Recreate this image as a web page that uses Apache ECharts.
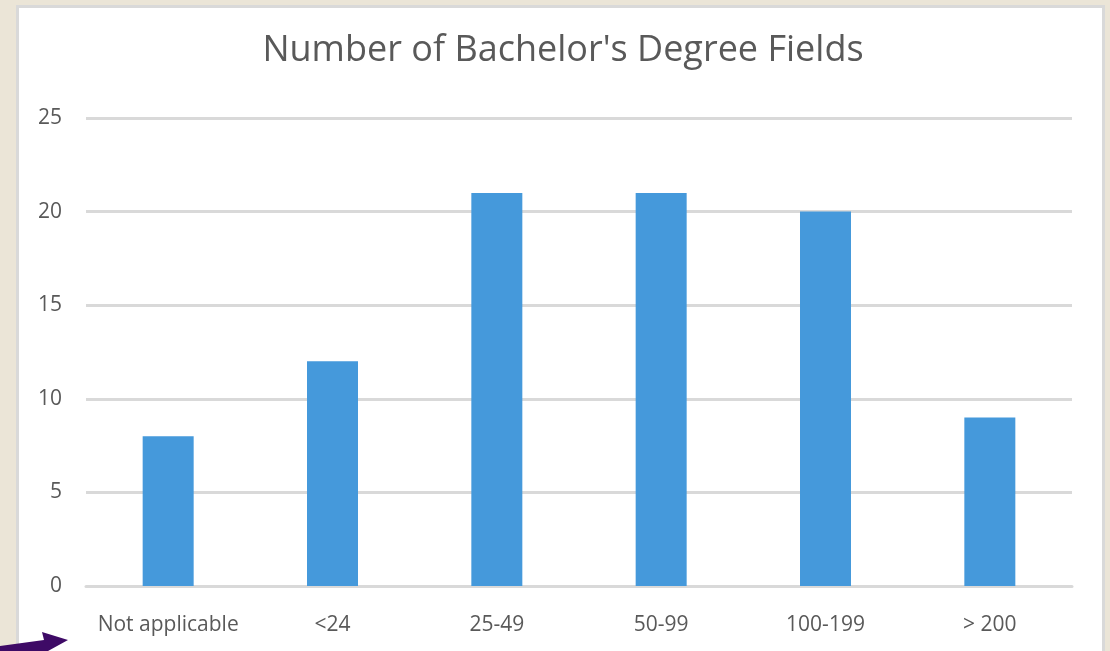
<!DOCTYPE html>
<html>
<head>
<meta charset="utf-8">
<script src="https://cdn.jsdelivr.net/npm/echarts@6/dist/echarts.min.js"></script>
<style>
  html, body { margin: 0; padding: 0; background: #ebe5d7; }
  #chart { width: 1110px; height: 651px; }
</style>
</head>
<body>
<div id="chart"></div>
<script>
// data
const categories = ["Not applicable", "<24", "25-49", "50-99", "100-199", "> 200"];
const counts = [8, 12, 21, 21, 20, 9];
const chartTitle = "Number of Bachelor's Degree Fields";

const textColor = "#595959";
const fontFamily = "'Open Sans', 'Liberation Sans', sans-serif";

const myChart = echarts.init(document.getElementById("chart"));
const option = {
  backgroundColor: "#ebe5d7",
  animation: false,
  graphic: [
    {
      type: "rect",
      z: -10,
      shape: { x: 17.5, y: 6.5, width: 1086, height: 660 },
      style: { fill: "#ffffff", stroke: "#d9d9d9", lineWidth: 3 }
    },
    {
      // purple arrow at bottom-left corner
      type: "polygon",
      z: 100,
      shape: { points: [[0, 651], [0, 646], [44, 640], [42, 632], [68, 640], [48, 651]] },
      style: { fill: "#3e0a66" }
    }
  ],
  title: {
    text: chartTitle,
    left: 558,
    textAlign: "center",
    top: 28,
    textStyle: { color: textColor, fontSize: 36, fontWeight: "normal", fontFamily: fontFamily }
  },
  grid: { left: 86, right: 38, top: 118, bottom: 65, containLabel: false },
  xAxis: {
    type: "category",
    data: categories,
    axisLine: { show: true, lineStyle: { color: "#d9d9d9", width: 3 } },
    axisTick: { show: false },
    axisLabel: { color: textColor, fontSize: 21, margin: 29, interval: 0, fontFamily: fontFamily }
  },
  yAxis: {
    type: "value",
    min: 0,
    max: 25,
    interval: 5,
    axisLine: { show: false },
    axisTick: { show: false },
    splitLine: { lineStyle: { color: "#d9d9d9", width: 3 } },
    axisLabel: { color: textColor, fontSize: 21, margin: 24, fontFamily: fontFamily }
  },
  series: [
    {
      type: "bar",
      data: counts,
      barWidth: 51,
      itemStyle: { color: "#4599db" }
    }
  ]
};
myChart.setOption(option);
</script>
</body>
</html>
